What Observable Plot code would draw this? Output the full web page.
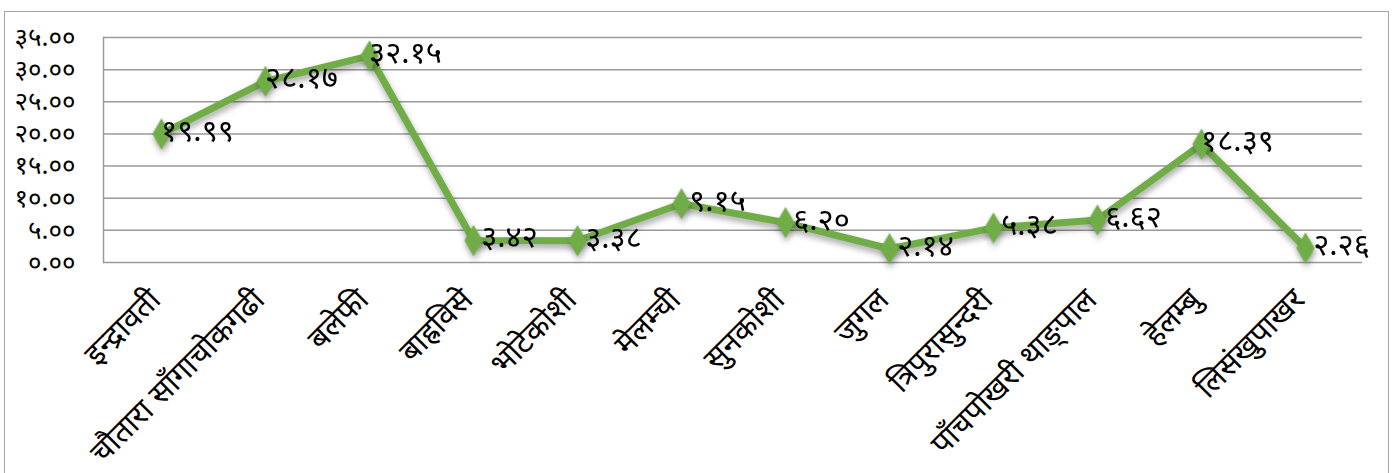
<!DOCTYPE html>
<html>
<head>
<meta charset="utf-8">
<script src="https://cdn.jsdelivr.net/npm/d3@7"></script>
<script src="https://cdn.jsdelivr.net/npm/@observablehq/plot@0.6"></script>
<style>
  html, body { margin: 0; padding: 0; background: #fff; }
  #wrap { position: relative; width: 1397px; height: 473px; overflow: hidden; }
  #border { position: absolute; left: 4px; top: 11px; width: 1385px; height: 480px; border: 1.5px solid #a6a6a6; box-sizing: border-box; pointer-events: none; }
  #chart svg { font-family: "Noto Sans Devanagari", "Noto Sans", "Lohit Devanagari", sans-serif; }
  #chart g[aria-label="line"] { filter: drop-shadow(1px 4px 3px rgba(0,0,0,0.35)); }
  #chart g[aria-label="dot"] { filter: drop-shadow(1px 4px 3px rgba(0,0,0,0.35)); }
</style>
</head>
<body>
<div id="wrap"><div id="chart"></div><div id="border"></div></div>
<script>
const categories = ["इन्द्रावती", "चौतारा साँगाचोकगढी", "बलेफी", "बाह्रविसे", "भोटेकोशी", "मेलम्ची", "सुनकोशी", "जुगल", "त्रिपुरासुन्दरी", "पाँचपोखरी थाङ्पाल", "हेलम्बु", "लिसंखुपाखर"];
const values = [19.99, 28.17, 32.15, 3.42, 3.38, 9.15, 6.20, 2.14, 5.38, 6.62, 18.39, 2.26];
const yTicks = [0, 5, 10, 15, 20, 25, 30, 35];

const devDigits = "०१२३४५६७८९";
const toDev = s => String(s).replace(/[0-9]/g, d => devDigits[+d]);
const fmt = v => toDev(d3.format(".2f")(v));

const data = categories.map((c, i) => ({cat: c, value: values[i]}));
const green = "#70ad47";

const chart = Plot.plot({
  width: 1397,
  height: 473,
  marginLeft: 103,
  marginRight: 35,
  marginTop: 37,
  marginBottom: 211,
  style: {background: "transparent", fontSize: "30px"},
  x: {type: "band", domain: categories, label: null, padding: 0},
  y: {domain: [0, 35], label: null},
  marks: [
    Plot.ruleY(yTicks, {stroke: "#9a9a9a", strokeWidth: 1.5, strokeOpacity: 1}),
    Plot.frame({anchor: "left", stroke: "#9a9a9a", strokeWidth: 1.5}),
    Plot.axisY({ticks: yTicks, tickFormat: fmt, tickSize: 0, tickPadding: 28, fontSize: 26, fill: "#000", label: null}),
    Plot.axisX({tickSize: 0, tickPadding: 32, dx: -6, tickRotate: -45, fontSize: 31, fill: "#000", label: null}),
    Plot.lineY(data, {x: "cat", y: "value", stroke: green, strokeWidth: 7, strokeLinejoin: "miter"}),
    Plot.dot(data, {x: "cat", y: "value", symbol: "diamond", r: 9.5, fill: green, stroke: "none"}),
    Plot.text(data, {x: "cat", y: "value", text: d => fmt(d.value), dx: 36, dy: -3, fontSize: 31, fill: "#000", textAnchor: "middle"})
  ]
});
document.getElementById("chart").appendChild(chart);
</script>
</body>
</html>
